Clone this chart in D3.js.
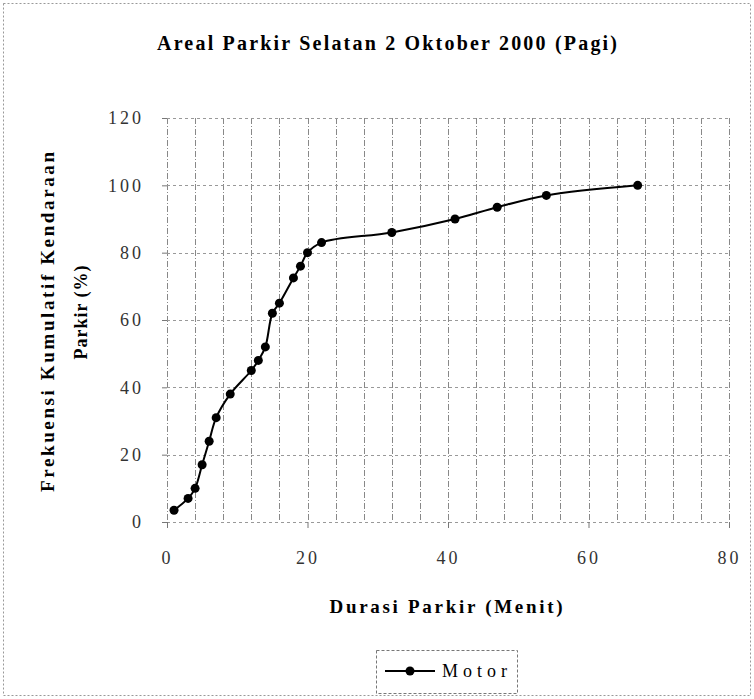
<!DOCTYPE html>
<html><head><meta charset="utf-8">
<script src="https://cdn.jsdelivr.net/npm/d3@7"></script>
<style>body{margin:0;background:#fff}svg{display:block}text{font-family:'Liberation Serif','Times New Roman',serif}</style>
</head><body><svg id="c" width="754" height="699"></svg>
<script>
const chartTitle = "Areal Parkir Selatan 2 Oktober 2000 (Pagi)";
const xTitle = "Durasi Parkir (Menit)";
const yTitleLines = ["Frekuensi Kumulatif Kendaraan", "Parkir (%)"];
const seriesName = "Motor";
const durations = [1, 3, 4, 5, 6, 7, 9, 12, 13, 14, 15, 16, 18, 19, 20, 22, 32, 41, 47, 54, 67];
const cumulative = [3.5, 7, 10, 17, 24, 31, 38, 45, 48, 52, 62, 65, 72.5, 76, 80, 83, 86, 90, 93.5, 97, 100];
const xTicks = [0, 20, 40, 60, 80];
const yTicks = [0, 20, 40, 60, 80, 100, 120];
const xGridStep = 4;

const svg = d3.select("#c");
const serif = "'Liberation Serif','Times New Roman',serif";
const L = 167, R = 729, T = 118, B = 522;
const x = d3.scaleLinear().domain([0, 80]).range([L, R]);
const y = d3.scaleLinear().domain([0, 120]).range([B, T]);

// outer border
svg.append("rect").attr("x", 3.5).attr("y", 3.5).attr("width", 747).attr("height", 692)
  .attr("fill", "none").attr("stroke", "#999").attr("stroke-dasharray", "2,2");

// grid
const vGrid = d3.range(0, 80 + xGridStep, xGridStep);
svg.append("g").selectAll("line").data(vGrid).join("line")
  .attr("x1", d => Math.round(x(d)) + 0.5).attr("x2", d => Math.round(x(d)) + 0.5)
  .attr("y1", T).attr("y2", B)
  .attr("stroke", "#888").attr("stroke-dasharray", "6,2,1,2");
svg.append("g").selectAll("line").data(yTicks).join("line")
  .attr("x1", L).attr("x2", R)
  .attr("y1", d => Math.round(y(d)) + 0.5).attr("y2", d => Math.round(y(d)) + 0.5)
  .attr("stroke", "#999").attr("stroke-dasharray", "3,3");

// axes
const xAxis = svg.append("g").attr("transform", `translate(0,${B})`)
  .call(d3.axisBottom(x).tickValues(xTicks).tickSize(6).tickPadding(23));
const yAxis = svg.append("g").attr("transform", `translate(${L},0)`)
  .call(d3.axisLeft(y).tickValues(yTicks).tickSize(5).tickPadding(18));
[xAxis, yAxis].forEach(a => {
  a.attr("font-family", null).attr("font-size", null);
  a.select(".domain").remove();
  a.selectAll(".tick line").attr("stroke", "#777");
  a.selectAll("text").style("font-family", serif).style("font-size", "18px")
    .attr("fill", "#333").style("letter-spacing", "3px");
});

// line + markers
const pts = durations.map((d, i) => [d, cumulative[i]]);
svg.append("path").datum(pts)
  .attr("fill", "none").attr("stroke", "#000").attr("stroke-width", 2)
  .attr("d", d3.line().x(d => x(d[0])).y(d => y(d[1])).curve(d3.curveCatmullRom.alpha(0.5)));
svg.append("g").selectAll("circle").data(pts).join("circle")
  .attr("cx", d => x(d[0])).attr("cy", d => y(d[1])).attr("r", 4.5).attr("fill", "#000");

// titles
svg.append("text").attr("x", 387).attr("y", 50).attr("text-anchor", "middle")
  .style("font-weight", "bold").style("font-size", "20px")
  .attr("textLength", 460).attr("lengthAdjust", "spacing").text(chartTitle);
svg.append("text").attr("x", 446).attr("y", 613).attr("text-anchor", "middle")
  .style("font-weight", "bold").style("font-size", "19px")
  .attr("textLength", 233).attr("lengthAdjust", "spacing").text(xTitle);
svg.append("text").attr("transform", "translate(54,322) rotate(-90)")
  .attr("text-anchor", "middle")
  .style("font-weight", "bold").style("font-size", "19px")
  .attr("textLength", 340).attr("lengthAdjust", "spacing").text(yTitleLines[0]);
svg.append("text").attr("transform", "translate(87,312) rotate(-90)")
  .attr("text-anchor", "middle")
  .style("font-weight", "bold").style("font-size", "18px").style("letter-spacing", "1px")
  .text(yTitleLines[1]);

// legend
const lg = svg.append("g");
lg.append("rect").attr("x", 376.5).attr("y", 650.5).attr("width", 141).attr("height", 43)
  .attr("fill", "none").attr("stroke", "#777").attr("stroke-dasharray", "3,2");
lg.append("line").attr("x1", 385).attr("x2", 435).attr("y1", 671).attr("y2", 671)
  .attr("stroke", "#000").attr("stroke-width", 2);
lg.append("circle").attr("cx", 410).attr("cy", 671).attr("r", 4.5).attr("fill", "#000");
lg.append("text").attr("x", 442).attr("y", 677).style("font-size", "18px")
  .attr("textLength", 65).attr("lengthAdjust", "spacing").text(seriesName);
</script></body></html>
